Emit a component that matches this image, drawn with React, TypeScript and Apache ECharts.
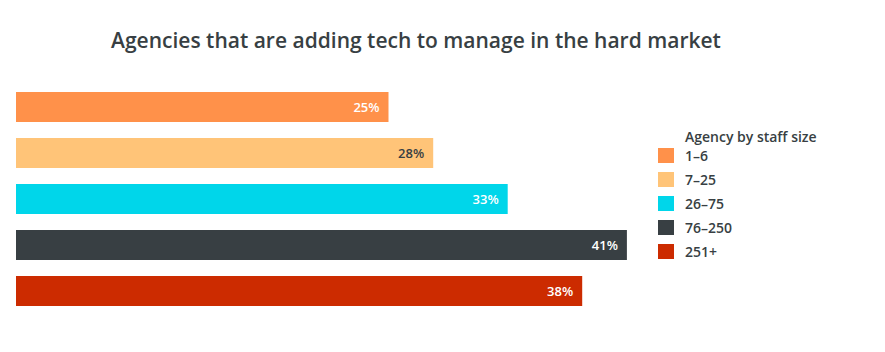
import React, { useEffect, useRef } from "react";
import * as echarts from "echarts";

const categories = ["1–6", "7–25", "26–75", "76–250", "251+"];
const values = [25, 28, 33, 41, 38];
const colors = ["#FF914A", "#FFC478", "#00D6EA", "#383F43", "#CC2B00"];
const labelColors = ["#FFFFFF", "#383F43", "#FFFFFF", "#FFFFFF", "#FFFFFF"];

const FONT = "Open Sans";

export default function App() {
  const ref = useRef<HTMLDivElement>(null);
  useEffect(() => {
    if (!ref.current) return;
    const chart = echarts.init(ref.current, undefined, { renderer: "svg" });
    const series = categories.map((name, i) => ({
      name,
      type: "bar",
      stack: "all",
      barWidth: 30,
      itemStyle: { color: colors[i] },
      data: categories.map((_, j) => (j === i ? values[i] : "-")),
      label: {
        show: true,
        position: "insideRight",
        distance: 9,
        formatter: "{c}%",
        color: labelColors[i],
        fontFamily: FONT,
        fontWeight: 600,
        fontSize: 13,
      },
    }));
    chart.setOption({
      animation: false,
      title: [
        {
          text: "Agencies that are adding tech to manage in the hard market",
          left: 411,
          textAlign: "center",
          top: 24,
          textStyle: {
            fontFamily: FONT,
            fontWeight: 600,
            fontSize: 21,
            color: "#383F43",
          },
        },
        {
          text: "Agency by staff size",
          left: 680,
          top: 124,
          textStyle: {
            fontFamily: FONT,
            fontWeight: 600,
            fontSize: 14,
            color: "#383F43",
          },
        },
      ],
      legend: {
        orient: "vertical",
        left: 658,
        top: 148,
        padding: 0,
        itemWidth: 16,
        itemHeight: 15,
        itemGap: 9,
        icon: "rect",
        data: categories,
        textStyle: {
          fontFamily: FONT,
          fontWeight: 600,
          fontSize: 14,
          lineHeight: 15,
          color: "#383F43",
          padding: [0, 0, 0, 6],
        },
      },
      grid: { left: 16, top: 84, width: 670.5, height: 230 },
      xAxis: {
        type: "value",
        min: 0,
        max: 45,
        show: false,
      },
      yAxis: {
        type: "category",
        data: categories,
        inverse: true,
        show: false,
      },
      series,
    });
    return () => chart.dispose();
  }, []);
  return (
    <div
      ref={ref}
      style={{ position: "fixed", left: 0, top: 0, width: 885, height: 352, background: "#fff" }}
    />
  );
}
